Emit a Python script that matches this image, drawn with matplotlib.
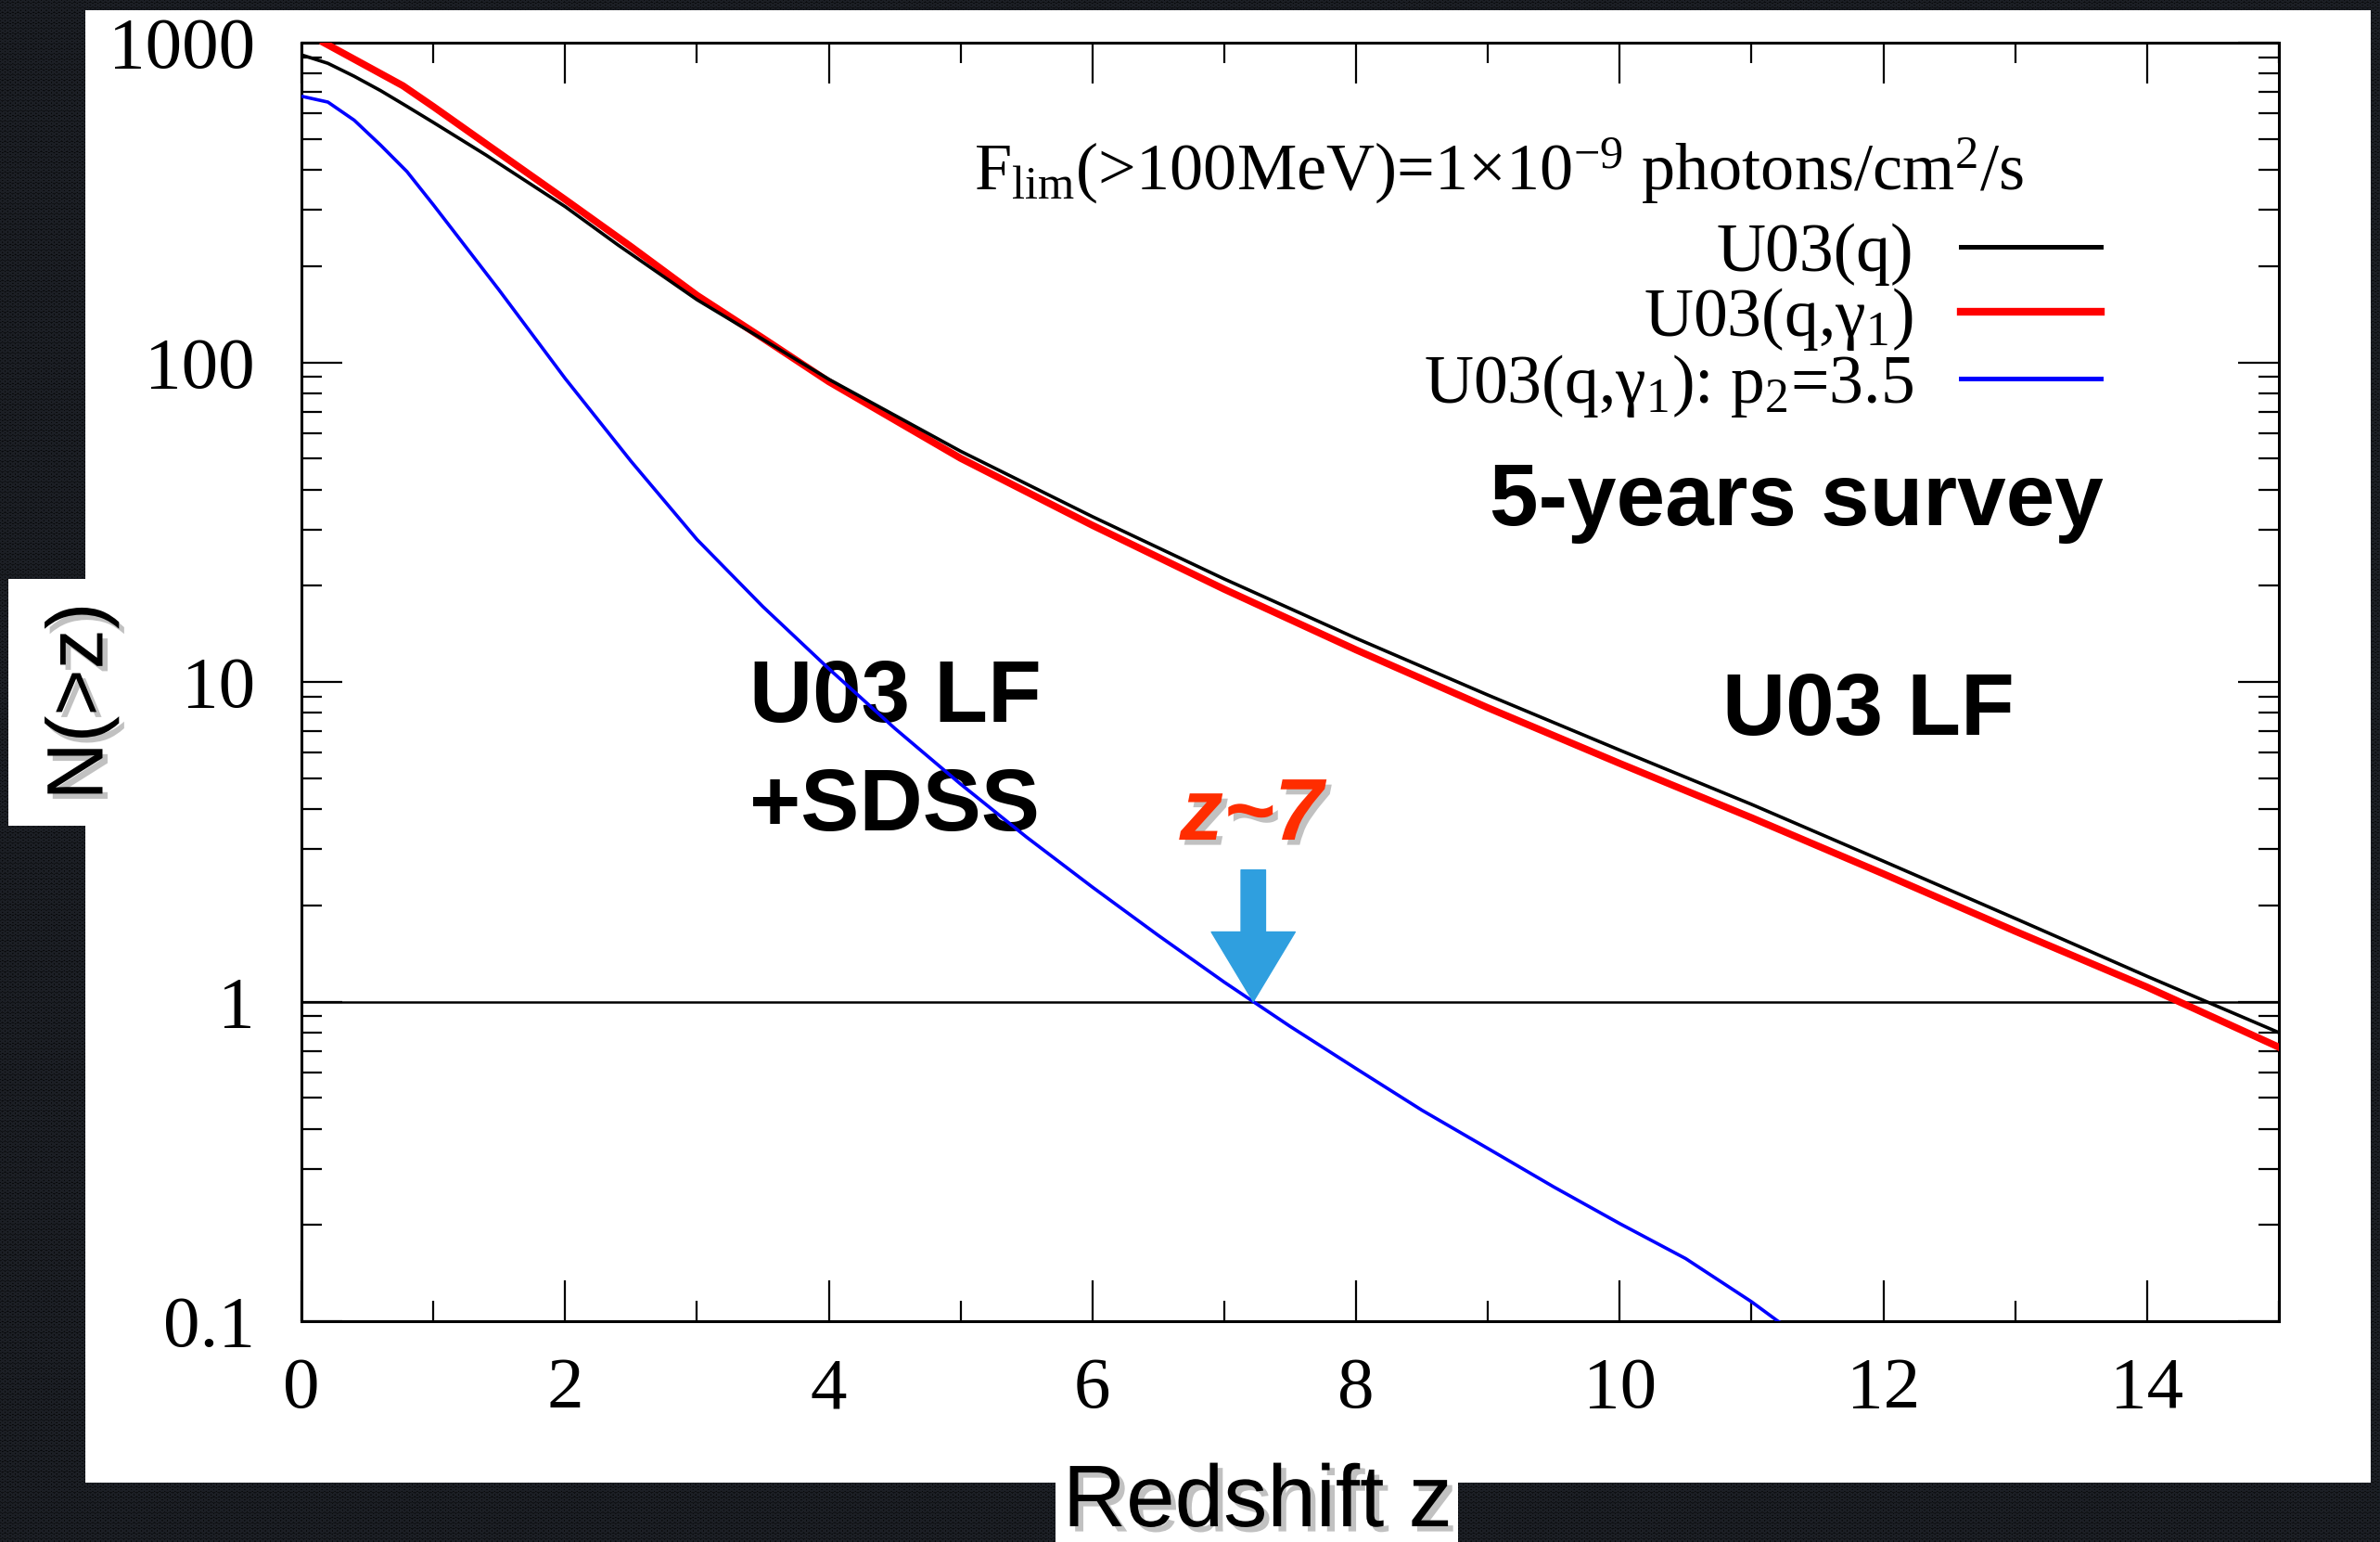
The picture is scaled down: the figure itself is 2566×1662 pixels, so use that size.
import numpy as np
import matplotlib.pyplot as plt
from matplotlib import ticker, patheffects
from matplotlib.patches import Rectangle

# N(>z) curves
z_q = [0, 0.2, 0.4, 0.6, 0.8, 1.0, 1.4, 2.0, 2.4, 3.0, 3.5, 4, 5, 6, 7, 8, 9, 10, 11, 12, 13, 14, 15]
n_q = [916, 862, 785, 708, 632, 563, 445, 307, 233, 157, 118, 88.5, 52.7, 32.9, 21.0, 13.7, 9.1, 6.12,
       4.14, 2.75, 1.82, 1.2, 0.80]

z_qg = [0.17, 0.5, 0.77, 1.0, 1.38, 2.0, 2.5, 3.0, 3.5, 4, 5, 6, 7, 8, 9, 10, 11, 12, 13, 14, 15]
n_qg = [1000, 843, 733, 631, 489, 323, 230, 162, 119, 87, 50.1, 30.9, 19.5, 12.6, 8.3, 5.56, 3.76,
        2.51, 1.66, 1.11, 0.72]

z_p2 = [0, 0.2, 0.4, 0.6, 0.8, 1.0, 1.5, 2.0, 2.5, 3.0, 3.5, 4.0, 4.5, 5.0, 5.5, 6.0, 6.5, 7.0, 7.5,
        8.0, 8.5, 9.0, 9.5, 10.0, 10.5, 11.0, 11.2, 12.0]
n_p2 = [680, 652, 572, 478, 395, 311, 168, 89, 49, 27.9, 17.2, 11.0, 7.16, 4.79, 3.27, 2.28, 1.61, 1.15,
        0.836, 0.617, 0.457, 0.347, 0.263, 0.202, 0.157, 0.115, 0.100, 0.066]

z_cross = 7.22   # where the p2=3.5 curve drops below one source

x_ticks = [0, 2, 4, 6, 8, 10, 12, 14]
y_ticks = [0.1, 1, 10, 100, 1000]
labels = ['U03(q)', 'U03(q,γ$_1$)', 'U03(q,γ$_1$): p$_2$=3.5']
flux_note = 'F$_{\\rm lim}$(>100MeV)=1×10$^{-9}$ photons/cm$^2$/s'

plt.rcParams['font.family'] = 'Liberation Serif'
plt.rcParams['mathtext.fontset'] = 'custom'
plt.rcParams['mathtext.rm'] = 'Liberation Serif'
plt.rcParams['mathtext.it'] = 'Liberation Serif:italic'
plt.rcParams['hatch.linewidth'] = 1.2

fig = plt.figure(figsize=(25.66, 16.62), dpi=100, facecolor='#070809')

# dark textured slide background + white boxes
fig.patches.append(Rectangle((0, 0), 1, 1, transform=fig.transFigure, facecolor='#070809',
                             edgecolor='#1c1f25', hatch='OOO', lw=0, zorder=-10))
fig.patches.append(Rectangle((0.0359, 0.0385), 0.9602, 0.9549, transform=fig.transFigure,
                             facecolor='white', lw=0, zorder=-5))
fig.patches.append(Rectangle((0.0035, 0.4645), 0.04, 0.16, transform=fig.transFigure,
                             facecolor='white', lw=0, zorder=-5))
fig.patches.append(Rectangle((0.4435, 0.0), 0.1691, 0.05, transform=fig.transFigure,
                             facecolor='white', lw=0, zorder=-5))

ax = fig.add_axes([0.1267, 0.1432, 0.8308, 0.8291])
ax.patch.set_alpha(0)

l_qg, = ax.plot(z_qg, n_qg, color='#ff0000', lw=5.5, zorder=3)
l_q, = ax.plot(z_q, n_q, color='black', lw=2.6, zorder=4)
l_p2, = ax.plot(z_p2, n_p2, color='#0000ff', lw=2.6, zorder=4)
ax.axhline(1, color='black', lw=1.8, zorder=2)

ax.set_yscale('log')
ax.set_xlim(0, 15)
ax.set_ylim(0.1, 1000)

ax.xaxis.set_major_locator(ticker.FixedLocator(x_ticks))
ax.xaxis.set_minor_locator(ticker.MultipleLocator(1))
ax.yaxis.set_major_locator(ticker.FixedLocator(y_ticks))
ax.yaxis.set_major_formatter(ticker.FuncFormatter(lambda v, p: f'{v:g}'))
ax.yaxis.set_minor_locator(ticker.LogLocator(base=10, subs=range(2, 10)))
ax.yaxis.set_minor_formatter(ticker.NullFormatter())

ax.tick_params(which='both', direction='in', top=True, right=True, width=1.6, labelsize=57)
ax.tick_params(which='major', length=32)
ax.tick_params(which='minor', length=16)
ax.tick_params(axis='y', pad=36)
ax.tick_params(axis='x', pad=28)
for s in ax.spines.values():
    s.set_linewidth(2.2)

shadow = [patheffects.withSimplePatchShadow(offset=(4, -4), shadow_rgbFace='#777777', alpha=0.45)]

ax.set_xlabel('Redshift z', family='Liberation Sans', fontsize=68, va='baseline', path_effects=shadow)
ax.xaxis.set_label_coords(0.4836, -0.1604)
ax.set_ylabel('N(>z)', family='Liberation Sans', fontsize=62, va='center', path_effects=shadow)
ax.yaxis.set_label_coords(-0.111, 0.4848)

leg = ax.legend([l_q, l_qg, l_p2], labels, loc='upper right', bbox_to_anchor=(0.910, 0.859),
                frameon=False, markerfirst=False, fontsize=53, handlelength=2.05,
                handletextpad=0.7, labelspacing=0.0, borderpad=0, borderaxespad=0)
for h, w in zip(leg.legend_handles, [3.6, 6, 3.6]):
    h.set_linewidth(w)

ax.text(0.340, 0.8846, flux_note, transform=ax.transAxes, fontsize=52, va='baseline', ha='left')

bold = dict(family='Liberation Sans', fontweight='bold', fontsize=68, transform=ax.transAxes, va='baseline')
ax.text(0.601, 0.623, '5-years survey', **bold)
ax.text(0.7186, 0.4586, 'U03 LF', **bold)
ax.text(0.2266, 0.469, 'U03 LF', **bold)
ax.text(0.2266, 0.3839, '+SDSS', **bold)
ax.text(0.444, 0.3766, 'z~7', color='#ff2d00', style='italic', path_effects=shadow, **bold)

ax.annotate('', xy=(z_cross, 1.0), xytext=(z_cross, 2.58),
            arrowprops=dict(arrowstyle='simple,head_length=54,head_width=65,tail_width=19',
                            mutation_scale=1, color='#2f9fdf', shrinkA=0, shrinkB=0), zorder=5)

fig.savefig('out.png', dpi=100, facecolor=fig.get_facecolor())
